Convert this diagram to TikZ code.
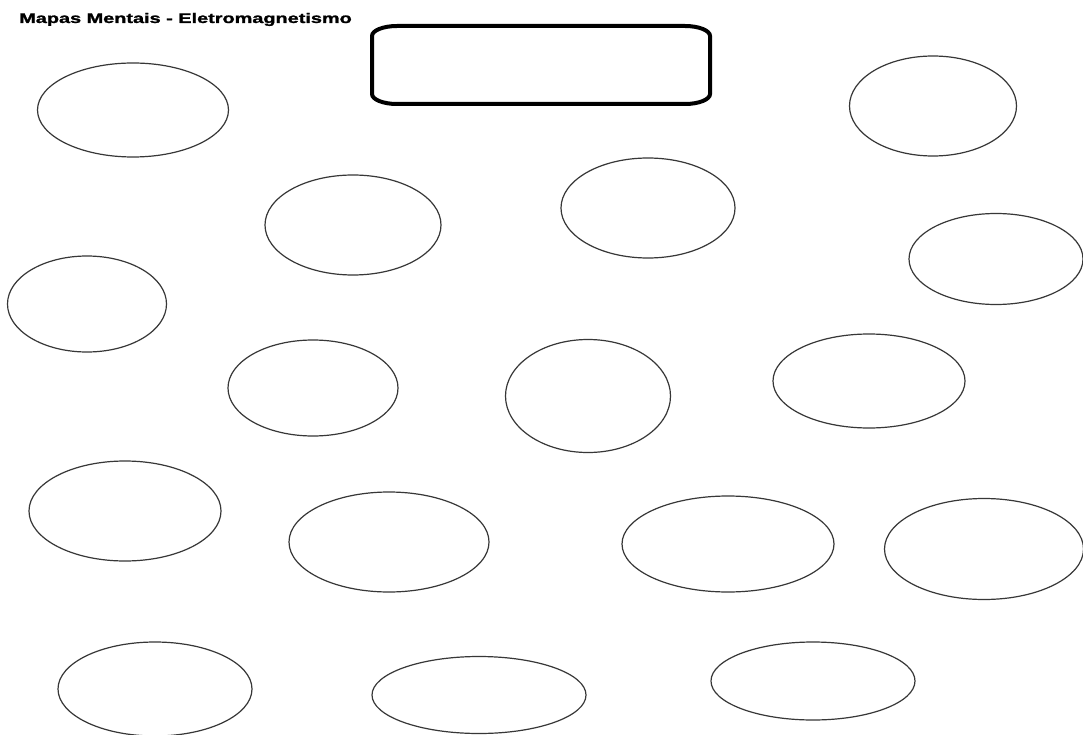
\documentclass[tikz,border=0pt]{standalone}
\usepackage{fontspec}
\setmainfont{Liberation Sans}
\newfontfamily\titlefont[FakeBold=1.3]{Liberation Sans Bold}
\usepackage{xcolor}
\usetikzlibrary{shapes.geometric}
\definecolor{paperwhite}{RGB}{255,255,255}
\definecolor{bubbleline}{RGB}{55,55,55}
\definecolor{titleblack}{RGB}{0,0,0}

\tikzset{
  bubble/.style={draw=bubbleline, line width=1.2pt, ellipse, inner sep=0pt},
}

\begin{document}
\begin{tikzpicture}[x=1pt, y=-1pt]

% 1. PAGE
\fill[paperwhite] (0,0) rectangle (1083,735);
\useasboundingbox (0,0) rectangle (1083,735);

% 2. TITLE
\node[anchor=base west, inner sep=0pt, xscale=1.42, text=titleblack,
      font=\fontsize{14}{16}\selectfont\titlefont] (title) at (19,23)
      {Mapas Mentais - Eletromagnetismo};

% 3. CENTRAL BOX (empty)
\draw[titleblack, line width=4pt]
  (397,26) -- (685,26)
  arc[start angle=-90, end angle=0, x radius=25, y radius=10] -- (710,94)
  arc[start angle=0, end angle=90, x radius=25, y radius=10] -- (397,104)
  arc[start angle=90, end angle=180, x radius=25, y radius=10] -- (372,36)
  arc[start angle=180, end angle=270, x radius=25, y radius=10] -- cycle;
\coordinate (centro) at (541,65);

% 4. CONCEPT BUBBLES
% Row 1
\node[bubble, minimum width=191pt, minimum height=94pt]  (b1)  at (133,110) {};
\node[bubble, minimum width=167pt, minimum height=100pt] (b2)  at (933,106) {};
% Row 2
\node[bubble, minimum width=176pt, minimum height=100pt] (b3)  at (353,225) {};
\node[bubble, minimum width=174pt, minimum height=100pt] (b4)  at (648,208) {};
\node[bubble, minimum width=174pt, minimum height=91pt]  (b5)  at (996,259) {};
\node[bubble, minimum width=159pt, minimum height=96pt]  (b6)  at (87,304) {};
% Row 3
\node[bubble, minimum width=170pt, minimum height=96pt]  (b7)  at (313,388) {};
\node[bubble, minimum width=165pt, minimum height=113pt] (b8)  at (588,396) {};
\node[bubble, minimum width=192pt, minimum height=94pt]  (b9)  at (869,381) {};
% Row 4
\node[bubble, minimum width=192pt, minimum height=100pt] (b10) at (125,511) {};
\node[bubble, minimum width=200pt, minimum height=100pt] (b11) at (389,542) {};
\node[bubble, minimum width=212pt, minimum height=96pt]  (b12) at (728,544) {};
\node[bubble, minimum width=199pt, minimum height=101pt] (b13) at (984,549) {};
% Row 5
\node[bubble, minimum width=194pt, minimum height=94pt]  (b14) at (155,689) {};
\node[bubble, minimum width=214pt, minimum height=77pt]  (b15) at (479,695) {};
\node[bubble, minimum width=204pt, minimum height=78pt]  (b16) at (813,681) {};

\end{tikzpicture}
\end{document}
